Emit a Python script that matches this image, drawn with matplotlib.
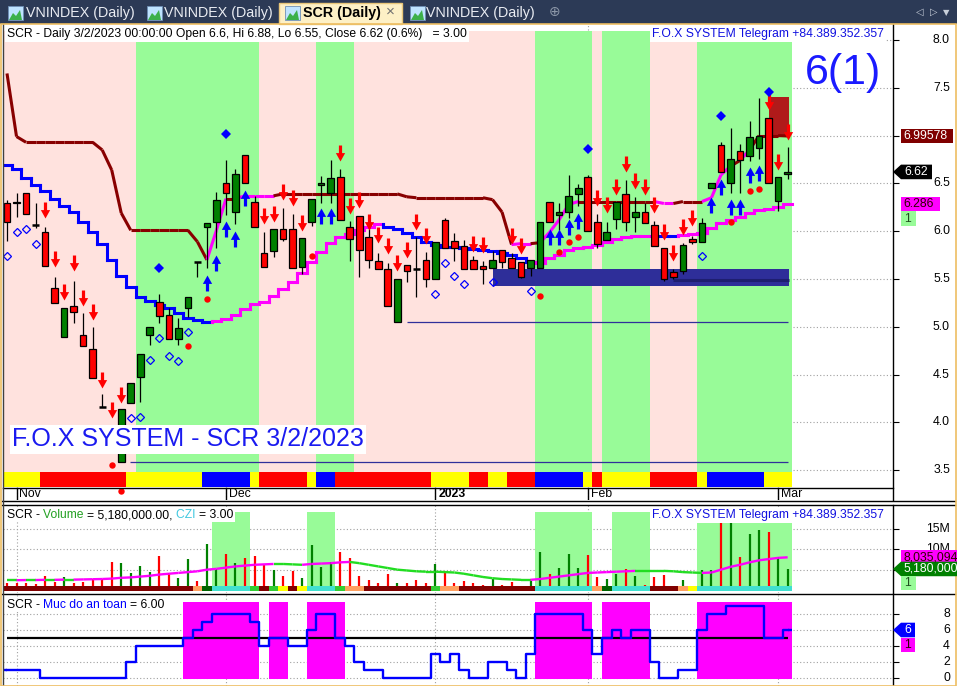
import numpy as np
import matplotlib
matplotlib.use('Agg')
import matplotlib.pyplot as plt
from matplotlib.patches import Rectangle, Polygon
from matplotlib.path import Path
from matplotlib.collections import LineCollection
import matplotlib.transforms as mtransforms

plt.rcParams['font.family'] = ['Liberation Sans', 'DejaVu Sans']

# ---------------- data ----------------
opens = [6.30, 6.31, 6.40, 6.06, 5.99, 5.41, 4.89, 5.22, 4.91, 4.77,
         4.16, 3.95, 3.59, 4.20, 4.47, 4.91, 5.26, 5.12, 4.87, 5.20,
         5.68, 6.04, 6.10, 6.50, 6.20, 6.80, 6.31, 5.77, 5.79, 6.02,
         6.02, 5.63, 6.10, 6.48, 6.40, 6.57, 6.04, 6.16, 5.94, 5.69,
         5.60, 5.05, 5.65, 5.60, 5.70, 5.50, 6.12, 5.90, 5.85, 5.70,
         5.64, 5.62, 5.80, 5.72, 5.68, 5.62, 5.62, 6.31, 6.17, 6.20,
         6.39, 6.57, 6.10, 5.91, 6.13, 6.39, 6.15, 6.20, 6.06, 5.82,
         5.57, 5.58, 5.92, 5.89, 6.45, 6.90, 6.50, 6.84, 6.79, 6.87,
         7.18, 6.32, 6.60]
highs = [6.33, 6.40, 6.40, 6.30, 6.04, 5.52, 5.20, 5.48, 5.14, 5.00,
         4.30, 3.96, 4.14, 4.41, 4.72, 5.00, 5.34, 5.20, 5.09, 5.31,
         5.68, 6.09, 6.41, 6.74, 6.65, 6.80, 6.37, 5.99, 6.02, 6.24,
         6.18, 5.93, 6.34, 6.58, 6.74, 6.65, 6.11, 6.16, 6.04, 5.77,
         5.67, 5.50, 5.65, 5.94, 5.78, 5.89, 6.14, 5.98, 5.91, 5.74,
         5.69, 5.79, 5.80, 5.77, 5.68, 5.70, 6.10, 6.31, 6.29, 6.59,
         6.49, 6.59, 6.18, 6.10, 6.31, 6.54, 6.36, 6.29, 6.11, 5.82,
         5.60, 5.88, 5.95, 6.14, 6.50, 6.93, 7.08, 6.91, 7.15, 7.39,
         7.18, 6.57, 6.88]
lows = [5.90, 6.15, 6.18, 6.03, 5.64, 5.25, 4.89, 5.04, 4.80, 4.46,
        4.16, 3.72, 3.59, 4.20, 4.21, 4.81, 5.04, 4.87, 4.81, 5.10,
        5.52, 5.62, 5.82, 6.17, 6.08, 6.50, 6.04, 5.63, 5.73, 5.90,
        5.62, 5.55, 6.05, 6.30, 6.30, 6.12, 5.69, 5.52, 5.62, 5.60,
        5.22, 5.05, 5.47, 5.31, 5.42, 5.50, 5.82, 5.69, 5.60, 5.60,
        5.45, 5.62, 5.62, 5.62, 5.51, 5.53, 5.62, 6.10, 6.01, 6.14,
        6.26, 6.00, 5.82, 5.91, 6.02, 6.00, 5.99, 6.09, 5.85, 5.48,
        5.50, 5.55, 5.87, 5.89, 6.45, 6.62, 6.40, 6.40, 6.73, 6.76,
        6.50, 6.21, 6.55]
closes = [6.10, 6.30, 6.18, 6.06, 5.64, 5.25, 5.20, 5.15, 4.80, 4.46,
          4.16, 3.75, 4.14, 4.41, 4.72, 5.00, 5.11, 4.87, 4.99, 5.31,
          5.68, 6.09, 6.33, 6.40, 6.60, 6.50, 6.04, 5.63, 6.02, 5.92,
          5.62, 5.93, 6.34, 6.50, 6.56, 6.12, 5.92, 5.80, 5.70, 5.60,
          5.22, 5.50, 5.58, 5.60, 5.50, 5.89, 5.82, 5.82, 5.60, 5.60,
          5.60, 5.70, 5.68, 5.62, 5.52, 5.70, 6.10, 6.10, 6.20, 6.37,
          6.45, 6.00, 5.87, 5.99, 6.31, 6.10, 6.20, 6.09, 5.85, 5.50,
          5.52, 5.86, 5.89, 6.09, 6.50, 6.62, 6.76, 6.74, 6.99, 7.00,
          6.50, 6.57, 6.62]

# slow trailing line (1 = bullish colour)
line_a = [7.65, 6.99, 6.93, 6.93, 6.93, 6.93, 6.93, 6.93, 6.93, 6.93,
          6.85, 6.64, 6.19, 6.01, 6.01, 6.01, 6.01, 6.01, 6.01, 6.01,
          5.89, 5.70, 6.01, 6.34, 6.34, 6.37, 6.37, 6.37, 6.37, 6.39,
          6.39, 6.39, 6.39, 6.39, 6.39, 6.39, 6.39, 6.39, 6.39, 6.39,
          6.39, 6.39, 6.36, 6.35, 6.35, 6.35, 6.35, 6.35, 6.35, 6.35,
          6.35, 6.33, 6.20, 5.86, 5.87, 5.87, 5.88, 5.99, 6.12, 6.28,
          6.31, 6.31, 6.31, 6.31, 6.31, 6.31, 6.31, 6.31, 6.31, 6.29,
          6.29, 6.31, 6.31, 6.31, 6.35, 6.59, 6.68, 6.74, 6.85, 7.00,
          7.00, 7.00, 6.996]
line_a_up = [0] * 22 + [1, 1, 0, 1, 1, 1, 1] + [0] * 25 + [1, 1, 0, 1, 1, 1, 1, 0] + \
            [0] * 7 + [1, 1, 0, 0, 0, 1, 1, 1, 0, 1, 0, 0, 0, 0]
# fast stop line (1 = bullish colour)
line_b = [6.69, 6.65, 6.56, 6.48, 6.42, 6.34, 6.26, 6.20, 6.10, 5.99,
          5.87, 5.70, 5.53, 5.42, 5.31, 5.27, 5.23, 5.20, 5.14, 5.09,
          5.07, 5.05, 5.06, 5.08, 5.12, 5.19, 5.24, 5.26, 5.32, 5.40,
          5.47, 5.56, 5.68, 5.78, 5.88, 5.94, 5.97, 6.01, 6.04, 6.08,
          6.04, 6.02, 5.98, 5.94, 5.89, 5.86, 5.83, 5.83, 5.82, 5.81,
          5.80, 5.79, 5.77, 5.75, 5.72, 5.68, 5.67, 5.72, 5.75, 5.80,
          5.82, 5.83, 5.86, 5.89, 5.92, 5.94, 5.95, 5.95, 5.95, 5.95,
          5.95, 5.96, 5.97, 5.98, 6.03, 6.09, 6.12, 6.15, 6.19, 6.22,
          6.23, 6.25, 6.286]
line_b_up = [0] * 22 + [1] * 18 + [0] * 16 + [1] * 13 + [0, 0] + [1] * 12

regime_green = [0] * 14 + [1] * 13 + [0] * 6 + [1] * 4 + [0] * 19 + [1] * 6 + [0] + \
               [1] * 5 + [0] * 5 + [1] * 10
# bottom colour strip: Y yellow, R red, B blue
strip_main = ("YYYY" + "RRRRRRRRR" + "YYYYYYYY" + "BBBBB" + "Y" + "RRRRR" + "Y" + "BB" +
              "RRRRRRRRRR" + "YYYY" + "RR" + "YY" + "RRR" + "BBBBB" + "Y" + "R" + "YYYYY" +
              "RRRRR" + "Y" + "BBBBBB" + "YYY")

sell_bar = [4, 5, 6, 7, 8, 9, 10, 11, 12, 27, 28, 29, 30, 31, 35, 36, 37, 38, 39, 40,
            41, 42, 43, 44, 49, 50, 53, 54, 62, 63, 64, 65, 66, 67, 68, 69, 70, 71, 72,
            80, 81, 82]
sell_px = [6.22, 5.71, 5.36, 5.67, 5.30, 5.15, 4.44, 4.13, 4.29, 6.16, 6.18, 6.41, 6.35,
           6.09, 6.82, 6.26, 6.33, 6.10, 5.96, 5.85, 5.67, 5.80, 6.10, 5.95, 5.87, 5.86,
           5.95, 5.85, 6.35, 6.27, 6.46, 6.70, 6.53, 6.46, 6.27, 5.99, 5.77, 6.04, 6.14,
           7.35, 6.72, 7.04]
buy_bar = [21, 22, 23, 24, 25, 33, 34, 57, 58, 59, 60, 74, 75, 76, 77, 78, 79]
buy_px = [5.46, 5.67, 6.02, 5.92, 6.35, 6.16, 6.16, 5.94, 5.94, 6.04, 6.11, 6.27, 6.46,
          6.25, 6.25, 6.59, 6.61]
dot_bar = [11, 12, 19, 21, 32, 56, 58, 59, 60, 76, 78, 79]
dot_px = [3.55, 3.28, 4.80, 5.29, 5.74, 5.32, 5.78, 5.89, 5.94, 6.10, 6.42, 6.44]
ring_bar = [0, 1, 2, 3, 13, 14, 15, 16, 17, 18, 19, 45, 46, 47, 48, 51, 55, 73]
ring_px = [5.74, 5.99, 6.02, 5.87, 4.05, 4.06, 4.65, 4.88, 4.69, 4.64, 4.95, 5.34, 5.67,
           5.53, 5.45, 5.47, 5.37, 5.74]
gem_bar = [16, 23, 61, 75, 80]
gem_px = [5.62, 7.02, 6.86, 7.21, 7.46]

# zones
supply_bars, supply_lo, supply_hi = (80.0, 82.1), 6.99, 7.40
demand_bars, demand_lo, demand_hi = (51.0, 82.1), 5.43, 5.605
demand_core_bars, demand_core = (70.0, 82.1), 5.485
support_lines = [(12.9, 3.59), (42.0, 5.05)]

# volume (millions)
volume = [1.75, 1.75, 1.75, 1.5, 3.5, 2.0, 3.25, 1.75, 2.0, 2.75,
          2.75, 7.0, 6.75, 4.25, 6.0, 4.5, 8.25, 4.25, 3.0, 7.5,
          2.25, 11.25, 5.25, 8.75, 6.75, 7.75, 8.25, 6.25, 5.0, 3.5,
          4.75, 3.0, 11.0, 5.75, 7.0, 9.25, 7.75, 3.5, 2.5, 1.75,
          4.0, 1.75, 1.75, 2.5, 1.75, 6.5, 4.75, 1.75, 2.25, 1.75,
          1.25, 2.75, 1.25, 2.0, 1.0, 2.25, 9.25, 4.0, 5.5, 8.75,
          5.5, 8.5, 3.25, 2.75, 4.0, 5.25, 3.5, 1.25, 3.25, 3.75,
          1.0, 2.5, 1.0, 5.0, 5.0, 16.75, 17.0, 8.0, 13.75, 14.75,
          14.25, 8.0, 5.18]
vol_ma = [2.4, 2.4, 2.45, 2.45, 2.5, 2.5, 2.55, 2.55, 2.6, 2.65,
          2.7, 2.8, 3.0, 3.1, 3.3, 3.5, 3.8, 4.0, 4.2, 4.4,
          4.6, 5.0, 5.2, 5.5, 5.8, 6.0, 6.2, 6.3, 6.4, 6.4,
          6.3, 6.2, 6.4, 6.5, 6.6, 6.8, 6.9, 6.6, 6.2, 5.8,
          5.4, 5.0, 4.8, 4.6, 4.5, 4.5, 4.4, 4.3, 4.0, 3.6,
          3.2, 2.9, 2.7, 2.6, 2.5, 2.5, 2.7, 3.0, 3.3, 3.6,
          3.9, 4.2, 4.3, 4.4, 4.5, 4.6, 4.7, 4.7, 4.7, 4.7,
          4.6, 4.4, 4.3, 4.2, 4.3, 5.0, 5.7, 6.2, 6.8, 7.3,
          7.6, 7.9, 8.035]
vol_green = [0] * 22 + [1] * 4 + [0] * 6 + [1] * 3 + [0] * 21 + [1] * 6 + [0, 0] + \
            [1] * 4 + [0] * 5 + [1] * 10
# volume strip: d dark red, o orange, g dark green, c cyan, l lime, y yellow
strip_vol = "dddddddddddddddddddd" + "og" + "cccc" + "ldlydy" + "ccc" + "loo" + "ddddddd" + \
            "loo" + "dd" + "dddddd" + "cccccc" + "og" + "cccc" + "ddd" + "oy" + "cccccccccc"

safety = [1, 1, 1, 1, 0, 0, 0, 0, 0, 0, 0, 0, 0, 2, 4, 4, 4, 4, 4, 5,
          6, 7, 8, 8, 8, 8, 7, 4, 5, 5, 4, 4, 6, 8, 8, 5, 4, 2, 1, 1,
          0, 0, 0, 0, 0, 3, 2, 3, 1, 0, 0, 2, 2, 1, 0, 3, 8, 8, 8, 8,
          8, 6, 3, 5, 6, 5, 6, 6, 2, 0, 0, 1, 1, 6, 8, 8, 9, 9, 9, 9,
          5, 5, 6]
safety_level = 5

month_bar = [1, 23, 45, 61, 81]
month_lab = ["Nov", "Dec", "2023", "Feb", "Mar"]
price_ticks = [3.5, 4.0, 4.5, 5.0, 5.5, 6.0, 6.5, 7.0, 7.5, 8.0]
vol_ticks = [5, 10, 15]
safe_ticks = [0, 2, 4, 6, 8]

n = len(closes)
idx = np.arange(n)

# ---------------- figure ----------------
W, H = 957, 686
fig = plt.figure(figsize=(W / 100, H / 100), dpi=100)
fig.patch.set_facecolor('white')


def rect(x0, y0, x1, y1):
    return [x0 / W, 1 - y1 / H, (x1 - x0) / W, (y1 - y0) / H]


def fx(x):
    return x / W


def fy(y):
    return 1 - y / H


def fig_poly(pts, **kw):
    p = Polygon([(fx(a), fy(b)) for a, b in pts], closed=True, transform=fig.transFigure, **kw)
    fig.patches.append(p)
    return p


PINK = '#FFE2DE'
LGREEN = '#98FB98'
RED = '#FF0000'
DGREEN = '#008000'
MAROON = '#880000'
MAG = '#FF00FF'
BLUE = '#0000FF'

XL = ((3 - 7) / 9.52, (893 - 7) / 9.52)

ax1 = fig.add_axes(rect(3, 24, 893, 500))
ax2 = fig.add_axes(rect(3, 505, 893, 593))
ax3 = fig.add_axes(rect(3, 594, 893, 686))

for ax in (ax1, ax2, ax3):
    ax.set_xlim(*XL)
    for s in ax.spines.values():
        s.set_visible(False)
    ax.spines['right'].set_visible(True)
    ax.spines['right'].set_color('black')
    ax.spines['right'].set_linewidth(1.0)
    ax.yaxis.tick_right()
    ax.tick_params(axis='y', direction='out', length=4.5, width=0.8, labelright=False, labelleft=False)
    ax.tick_params(axis='x', length=0, labelbottom=False)
    ax.set_xticks(month_bar)
    ax.set_axisbelow(True)
    ax.grid(True, linestyle=(0, (1, 2)), color='#A0A0A0', linewidth=0.8)

# ---------- main panel ----------
ax1.set_ylim(3.1883, 8.1674)
ax1.set_yticks(price_ticks)


def spans(flags, val):
    out = []
    i = 0
    while i < len(flags):
        if flags[i] == val:
            j = i
            while j + 1 < len(flags) and flags[j + 1] == val:
                j += 1
            out.append((i - 0.5, j + 0.5))
            i = j + 1
        else:
            i += 1
    return out


yb0, yb1 = (500 - 472) / 476, (500 - 31) / 476
for a, b in spans(regime_green, 1):
    ax1.axvspan(a, b, ymin=yb0, ymax=yb1, color=LGREEN, lw=0, zorder=1)
for a, b in spans(regime_green, 0):
    ax1.axvspan(a, b, ymin=yb0, ymax=yb1, color=PINK, lw=0, zorder=1)
strip_cols = {'Y': '#FFFF00', 'R': '#FF0000', 'B': '#0000FF'}
ys0, ys1 = (500 - 487) / 476, (500 - 472) / 476
for i, ch in enumerate(strip_main[:n]):
    ax1.axvspan(i - 0.5, i + 0.5, ymin=ys0, ymax=ys1, color=strip_cols[ch], lw=0, zorder=2)

# zones
ax1.add_patch(Rectangle((supply_bars[0], supply_lo), supply_bars[1] - supply_bars[0],
                        supply_hi - supply_lo, fc='#B01A1A', ec='none', zorder=2.5))
ax1.add_patch(Rectangle((demand_bars[0], demand_lo), demand_bars[1] - demand_bars[0],
                        demand_hi - demand_lo, fc='#2E2E99', ec='none', zorder=2.5))
ax1.hlines(demand_core, demand_core_bars[0], demand_core_bars[1], color='#1E1E70', lw=2.2, zorder=2.6)
for start, lvl in support_lines:
    ax1.hlines(lvl, start, n - 1, color='#30309A', lw=0.9, zorder=2.6)

# line A (segments)
segs, cols = [], []
for i in range(1, n):
    segs.append([(i - 1, line_a[i - 1]), (i, line_a[i])])
    cols.append(MAG if line_a_up[i] else MAROON)
ax1.add_collection(LineCollection(segs, colors=cols, linewidths=2.2, zorder=3, capstyle='butt'))

# line B (steps)
segs, cols = [], []
for i in range(n):
    c = MAG if line_b_up[i] else BLUE
    segs.append([(i - 0.5, line_b[i]), (i + 0.5, line_b[i])])
    cols.append(c)
    if i + 1 < n:
        c2 = MAG if line_b_up[i + 1] else BLUE
        segs.append([(i + 0.5, line_b[i]), (i + 0.5, line_b[i + 1])])
        cols.append(c2)
ax1.add_collection(LineCollection(segs, colors=cols, linewidths=2.2, zorder=3, capstyle='projecting'))

# candles
bw = 0.7
for i in range(n):
    o, h, l, c = opens[i], highs[i], lows[i], closes[i]
    ax1.vlines(i, l, h, color='black', lw=0.9, zorder=4)
    if abs(c - o) < 0.005:
        ax1.hlines(o, i - bw / 2, i + bw / 2, color='black', lw=1.8, zorder=5)
    else:
        col = DGREEN if c > o else RED
        ax1.add_patch(Rectangle((i - bw / 2, min(o, c)), bw, abs(c - o), fc=col, ec='black',
                                lw=0.9, zorder=5))

# signals
down = Path([(-0.2, 1), (0.2, 1), (0.2, 0.05), (0.58, 0.05), (0, -1), (-0.58, 0.05),
             (-0.2, 0.05), (-0.2, 1)], closed=True)
up = Path([(-0.2, -1), (0.2, -1), (0.2, -0.05), (0.58, -0.05), (0, 1), (-0.58, -0.05),
           (-0.2, -0.05), (-0.2, -1)], closed=True)
ax1.plot(sell_bar, sell_px, ls='none', marker=down, ms=11.5, color=RED, mew=0, zorder=6)
ax1.plot(buy_bar, buy_px, ls='none', marker=up, ms=11.5, color=BLUE, mew=0, zorder=6)
ax1.plot(dot_bar, dot_px, ls='none', marker='o', ms=4.6, color=RED, mew=0, zorder=6, clip_on=False)
ax1.plot(ring_bar, ring_px, ls='none', marker='D', ms=3.6, mfc='none', mec=BLUE, mew=0.9, zorder=6)
ax1.plot(gem_bar, gem_px, ls='none', marker='D', ms=4.6, color=BLUE, mew=0, zorder=6)

# date axis
blend1 = mtransforms.blended_transform_factory(ax1.transData, ax1.transAxes)
ax1.plot([XL[0], XL[1]], [(500 - 488) / 476] * 2, transform=blend1, color='black', lw=1.0,
         zorder=7, clip_on=False)
for b, lab in zip(month_bar, month_lab):
    ax1.plot([b, b], [(500 - 488) / 476, (500 - 499) / 476], transform=blend1, color='black',
             lw=1.0, zorder=7)
    ax1.text(b + 0.3, (500 - 494) / 476, lab, transform=blend1, fontsize=8.8, va='center',
             ha='left', fontweight='bold' if lab == '2023' else 'normal', zorder=8)

# price labels
blendy1 = mtransforms.blended_transform_factory(ax1.transAxes, ax1.transData)
for t in price_ticks:
    ax1.text(1 + 57 / 890, t, f"{t:.1f}", transform=blendy1, fontsize=8.8, va='center',
             ha='right', clip_on=False)

# ---------- volume panel ----------
ax2.set_ylim(-0.738, 20.90)
ax2.set_yticks(vol_ticks)
yv0, yv1 = (593 - 589) / 88, (593 - 512) / 88
for a, b in spans(vol_green, 1):
    ax2.axvspan(a, b, ymin=yv0, ymax=yv1, color=LGREEN, lw=0, zorder=1)
vcols = [DGREEN if closes[i] > opens[i] else RED for i in range(n)]
ax2.vlines(idx, 0, volume, colors=vcols, lw=1.6, zorder=3)
sv_cols = {'d': '#800000', 'o': '#FFA060', 'g': '#006400', 'c': '#40E0D0', 'l': '#32CD32',
           'y': '#FFFF00', 'r': '#FF0000'}
for i, ch in enumerate(strip_vol[:n]):
    ax2.add_patch(Rectangle((i - 0.5, -0.25), 1.0, 1.23, fc=sv_cols[ch], ec='none', zorder=4))
segs, cols = [], []
for i in range(1, n):
    segs.append([(i - 1, vol_ma[i - 1]), (i, vol_ma[i])])
    cols.append(MAG if vol_ma[i] > vol_ma[i - 1] else '#22DD22')
ax2.add_collection(LineCollection(segs, colors=cols, linewidths=1.7, zorder=5))
blendy2 = mtransforms.blended_transform_factory(ax2.transAxes, ax2.transData)
for t in vol_ticks:
    ax2.text(1 + 57 / 890, t, f"{t}M", transform=blendy2, fontsize=8.8, va='center', ha='right',
             clip_on=False, zorder=1)

# ---------- safety panel ----------
ax3.set_ylim(-1.0, 10.5)
ax3.set_yticks(safe_ticks)
safe_flag = [1 if v >= safety_level else 0 for v in safety]
ym0, ym1 = (686 - 679) / 92, (686 - 602) / 92
for a, b in spans(safe_flag, 1):
    ax3.axvspan(a, b, ymin=ym0, ymax=ym1, color=MAG, lw=0, zorder=1)
ax3.hlines(safety_level, 0, n - 1, color='black', lw=1.6, zorder=3)
ax3.step(idx, safety, where='mid', color=BLUE, lw=1.7, zorder=4)
ax3.hlines([safety[0]], [-0.5], [0], color=BLUE, lw=1.7, zorder=4)
ax3.hlines([safety[-1]], [n - 1], [n - 0.5], color=BLUE, lw=1.7, zorder=4)
blendy3 = mtransforms.blended_transform_factory(ax3.transAxes, ax3.transData)
for t in safe_ticks:
    ax3.text(1 + 57 / 890, t, f"{t}", transform=blendy3, fontsize=8.8, va='center', ha='right',
             clip_on=False)

# ---------- figure decorations ----------
def ftext(x, y, s, **kw):
    kw.setdefault('va', 'center')
    kw.setdefault('ha', 'left')
    return fig.text(fx(x), fy(y), s, **kw)


renderer = fig.canvas.get_renderer()


def text_width(s, size, weight='normal'):
    t = fig.text(0, 0, s + '|', fontsize=size, fontweight=weight)
    w1 = t.get_window_extent(renderer=renderer).width
    t.remove()
    t = fig.text(0, 0, '|', fontsize=size, fontweight=weight)
    w2 = t.get_window_extent(renderer=renderer).width
    t.remove()
    return w1 - w2


def rainbow(x, y, parts, size=8.75):
    full = ''.join(s for s, _ in parts)
    wfull = text_width(full, size)
    fig.patches.append(Rectangle((fx(x - 2), fy(y + 6.5)), (wfull + 4) / W, 13 / H,
                                 transform=fig.transFigure, fc='white', ec='none', zorder=6))
    prefix = ''
    for s, col in parts:
        xo = x + text_width(prefix, size) if prefix else x
        ftext(xo, y, s, fontsize=size, color=col, zorder=8)
        prefix += s


# tab bar
fig.patches.append(Rectangle((0, fy(24)), 1, 24 / H, transform=fig.transFigure, fc='#2C3A56',
                             ec='none', zorder=1))
fig_poly([(279, 24), (279, 3), (402, 3), (402, 24)], fc='#FDF0C6', ec='#E9C77A', lw=1.0, zorder=2)
for xi in (8, 147, 285, 410):
    fig.patches.append(Rectangle((fx(xi), fy(20)), 15 / W, 14 / H, transform=fig.transFigure,
                                 fc='#BFE3FF', ec='#6E8FB5', lw=0.6, zorder=3))
    fig_poly([(xi + 1, 20), (xi + 5, 13), (xi + 8, 16), (xi + 12, 10), (xi + 14, 20)],
             fc='#3CB04A', ec='none', zorder=4)
for xi in (26, 164, 426):
    ftext(xi, 12.5, "VNINDEX (Daily)", fontsize=10.3, color='#E9ECF2', zorder=5)
ftext(303, 12.5, "SCR (Daily)", fontsize=10.3, color='black', fontweight='bold', zorder=5)
ftext(386, 12, "×", fontsize=11, color='#707070', zorder=5)
ftext(549, 12, "⊕", fontsize=10, color='#8C97A8', zorder=5, family='DejaVu Sans')
ftext(916, 12, "◁", fontsize=7, color='#C8CFDA', zorder=5, family='DejaVu Sans')
ftext(930, 12, "▷", fontsize=7, color='#C8CFDA', zorder=5, family='DejaVu Sans')
ftext(943, 13, "▼", fontsize=6, color='#C8CFDA', zorder=5, family='DejaVu Sans')

# frame / separators
fig_poly([(1, 24), (955.5, 24), (955.5, 685.5), (1, 685.5)], fc='none', ec='#EDBE62', lw=1.2, zorder=6)
for yy in (501, 505, 594):
    fig.lines.append(plt.Line2D([fx(2), fx(955)], [fy(yy), fy(yy)], transform=fig.transFigure,
                                color='black', lw=1.0, zorder=6))
fig.lines.append(plt.Line2D([fx(2.5), fx(2.5)], [fy(24), fy(686)], transform=fig.transFigure,
                            color='#404040', lw=1.0, zorder=6))

# panel titles
ftext(7, 34, "SCR - Daily 3/2/2023 00:00:00 Open 6.6, Hi 6.88, Lo 6.55, Close 6.62 (0.6%)   = 3.00",
      fontsize=8.75, color='black', zorder=7,
      bbox=dict(fc='white', ec='none', boxstyle='square,pad=0.15'))
for yy in (34, 515):
    ftext(652, yy, "F.O.X SYSTEM Telegram +84.389.352.357", fontsize=8.75, color='#1010E0', zorder=7,
          bbox=dict(fc='white', ec='none', boxstyle='square,pad=0.15'))
ftext(805, 73, "6(1)", fontsize=31, color='#1A1AFF', zorder=7)
ftext(12, 439, "F.O.X SYSTEM - SCR 3/2/2023", fontsize=18.0, color='#1A1AF0', zorder=7,
      bbox=dict(fc='white', ec='none', boxstyle='square,pad=0.1'))

rainbow(7, 515, [("SCR - ", 'black'), ("Volume ", '#22A022'), ("= 5,180,000.00, ", 'black'),
                 ("CZI ", '#40C8E0'), ("= 3.00", 'black')])
rainbow(7, 605, [("SCR - ", 'black'), ("Muc do an toan ", BLUE), ("= 6.00", 'black')])


# right-side value labels
def ypix(ax, v):
    return H - ax.transData.transform((0, v))[1]


def value_box(ax, v, text, fc, tc, arrow=False, x1=955, size=8.8):
    yc = ypix(ax, v)
    h2 = 7.3
    if arrow:
        pts = [(893, yc), (901, yc - h2), (x1, yc - h2), (x1, yc + h2), (901, yc + h2)]
    else:
        pts = [(901, yc - h2), (x1, yc - h2), (x1, yc + h2), (901, yc + h2)]
    fig_poly(pts, fc=fc, ec='none', zorder=7)
    ftext(903 if not arrow else 904, yc, text, fontsize=size, color=tc, zorder=8)
    return yc


value_box(ax1, line_a[-1], "6.99578", '#800000', 'white', x1=953)
value_box(ax1, closes[-1], "6.62", 'black', 'white', arrow=True, x1=932)
yc = value_box(ax1, line_b[-1], "6.286", MAG, '#300000', x1=940)
fig_poly([(901, yc + 7.5), (916, yc + 7.5), (916, yc + 22.5), (901, yc + 22.5)], fc=LGREEN, ec='none', zorder=7)
ftext(904, yc + 15, "1", fontsize=8.8, color='#205020', zorder=8)

value_box(ax2, vol_ma[-1], "8,035,094", MAG, '#300000', x1=957)
yc = value_box(ax2, volume[-1], "5,180,000", DGREEN, 'white', arrow=True, x1=957)
fig_poly([(901, yc + 7.5), (916, yc + 7.5), (916, yc + 21.5), (901, yc + 21.5)], fc=LGREEN, ec='none', zorder=7)
ftext(904, yc + 14.5, "1", fontsize=8.8, color='#205020', zorder=8)

yc = value_box(ax3, safety[-1], "6", BLUE, 'white', arrow=True, x1=915)
fig_poly([(901, yc + 7.5), (915, yc + 7.5), (915, yc + 22), (901, yc + 22)], fc=MAG, ec='none', zorder=7)
ftext(904, yc + 14.5, "1", fontsize=8.8, color='#300000', zorder=8)

fig.savefig('out.png', dpi=100, facecolor='white')
